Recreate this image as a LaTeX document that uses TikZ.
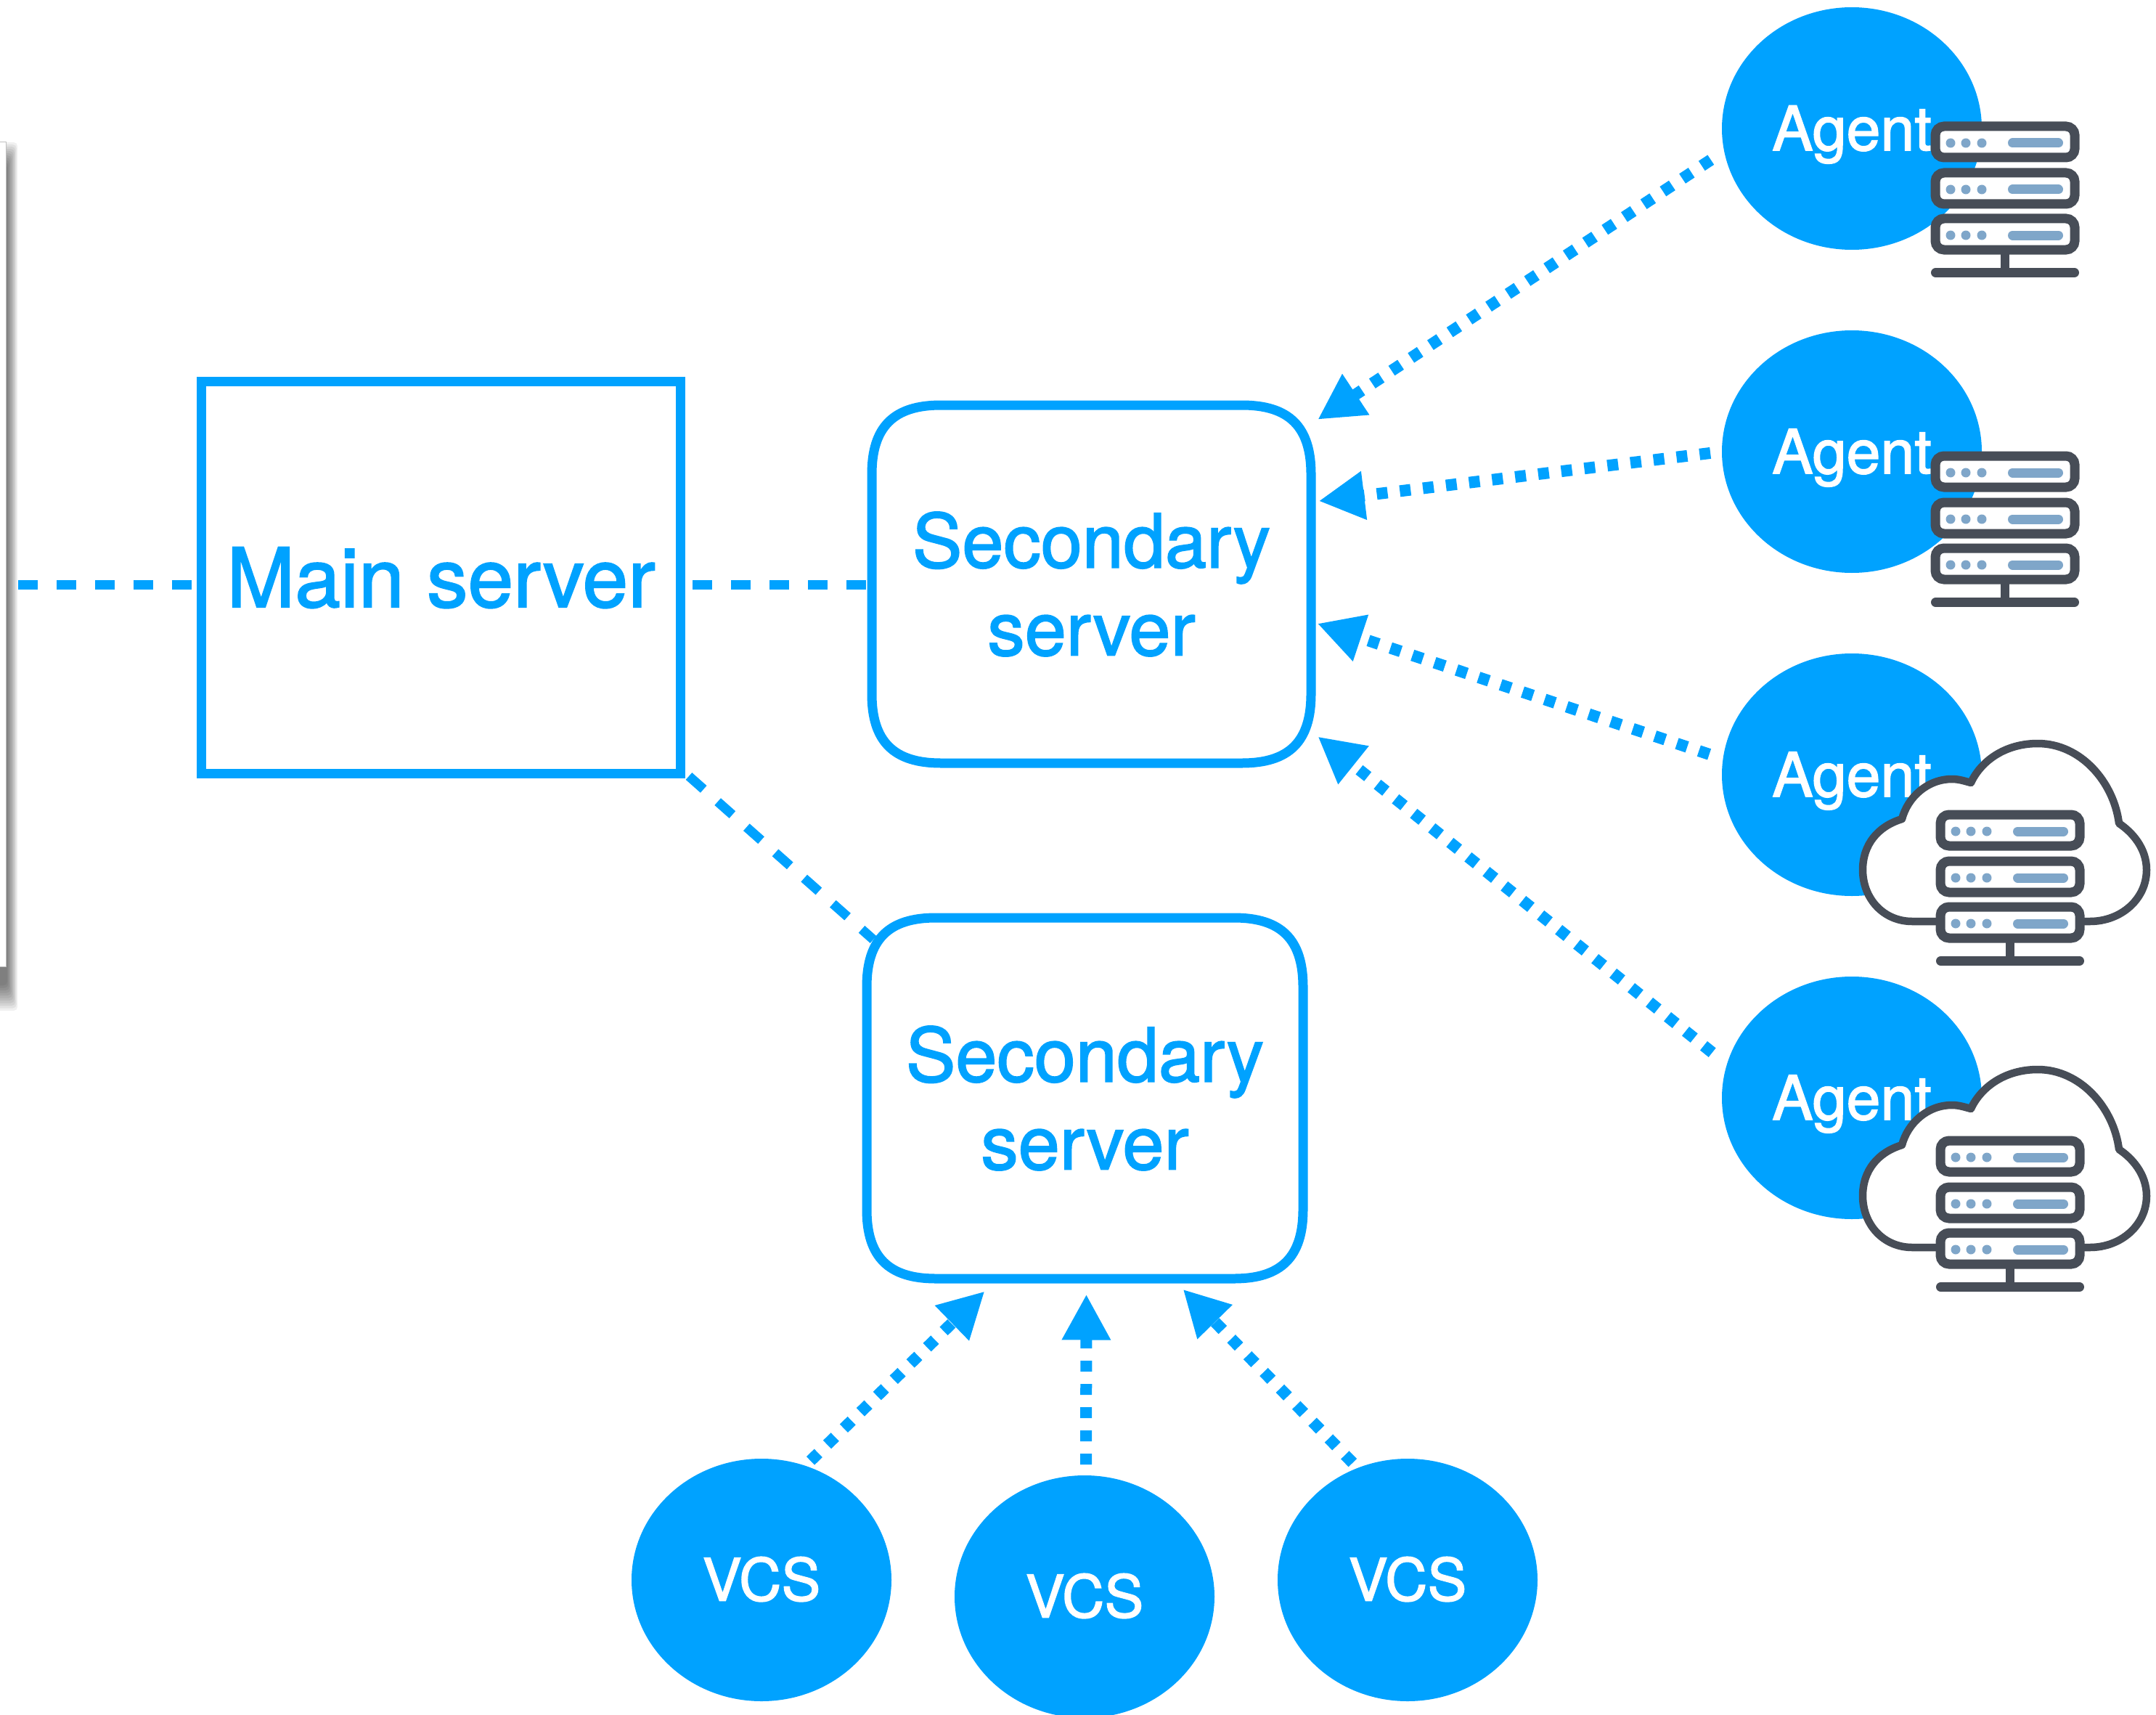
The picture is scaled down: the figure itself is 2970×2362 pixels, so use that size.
\documentclass[tikz,border=0pt]{standalone}
\usepackage{fontspec}
\setmainfont{TeX Gyre Heros}[FakeBold=1.8]
\usetikzlibrary{arrows.meta,shapes.geometric}
\definecolor{sky}{HTML}{00A2FF}
\definecolor{slate}{HTML}{474D57}
\definecolor{steel}{HTML}{7FA6C9}
\newcommand{\softbox}[1]{%
  \draw[sky,line width=1.3mm]
    ([shift={(107.5,12.5)}]#1.north west) -- ([shift={(-107.5,12.5)}]#1.north east)
    .. controls ([shift={(-42.5,12.5)}]#1.north east) and ([shift={(-12.5,42.5)}]#1.north east) .. ([shift={(-12.5,107.5)}]#1.north east)
    -- ([shift={(-12.5,-107.5)}]#1.south east)
    .. controls ([shift={(-12.5,-42.5)}]#1.south east) and ([shift={(-42.5,-12.5)}]#1.south east) .. ([shift={(-107.5,-12.5)}]#1.south east)
    -- ([shift={(107.5,-12.5)}]#1.south west)
    .. controls ([shift={(42.5,-12.5)}]#1.south west) and ([shift={(12.5,-42.5)}]#1.south west) .. ([shift={(12.5,-107.5)}]#1.south west)
    -- ([shift={(12.5,107.5)}]#1.north west)
    .. controls ([shift={(12.5,42.5)}]#1.north west) and ([shift={(42.5,12.5)}]#1.north west) .. ([shift={(107.5,12.5)}]#1.north west)
    -- cycle;
}
\tikzset{
  ballnode/.style={ellipse,fill=sky,text=white,inner sep=0pt,outer sep=0pt,minimum width=35.8mm,minimum height=33.4mm},
  agentball/.style={ballnode,font=\fontsize{24}{28}\selectfont,text height=6mm,text depth=0mm},
  vcsball/.style={ballnode,font=\fontsize{23}{26}\selectfont,text height=5.7mm,text depth=0mm},
  mainbox/.style={draw=sky,line width=1.3mm,text=sky,fill=white,inner sep=0pt,outer sep=0.65mm,minimum width=66mm,minimum height=54mm,font=\fontsize{32.1}{38}\selectfont,text height=8.1mm,text depth=0mm},
  secbox/.style={text=sky,inner sep=0pt,outer sep=1.25mm,align=center,font=\fontsize{29.2}{34.4}\selectfont},
  dashlink/.style={sky,line width=1.3mm,dash pattern=on 2.7mm off 2.6mm},
  dotlink/.style={sky,line width=1.6mm,dash pattern=on 1.5mm off 1.7mm,-{Triangle[length=6.3mm,width=6.3mm]}},
  unitbox/.style={draw=slate,fill=white,line width=1.3mm,rounded corners=1.2mm},
  unitdot/.style={fill=steel},
  unitbar/.style={steel,line width=1.3mm,line cap=round},
  rack/.pic={
    \foreach \u in {0,64,127}{
      \draw[unitbox] (6,\u+6) rectangle (198,\u+49);
      \foreach \d in {27,48,70}{\fill[unitdot] (\d,\u+29) circle[radius=0.65mm];}
      \draw[unitbar] (112.5,\u+29) -- (175.5,\u+29);
    }
    \fill[slate] (96,182) rectangle (108,202);
    \draw[slate,line width=1.3mm,line cap=round] (6.5,207.5) -- (197.5,207.5);
  },
  cloudrack/.pic={
    \draw[slate,fill=white,line width=1.05mm,line join=round]
      (0,153) -- (-33,153)
      .. controls (-72,153) and (-101,122) .. (-101,82)
      .. controls (-101,47) and (-80,22) .. (-47,12)
      .. controls (-39,-18) and (-12,-43) .. (22,-43)
      .. controls (32,-43) and (40,-40) .. (48,-38)
      .. controls (62,-68) and (95,-92) .. (140,-92)
      .. controls (200,-92) and (245,-38) .. (252,18)
      .. controls (270,30) and (290,52) .. (290,82)
      .. controls (290,122) and (255,153) .. (212,153)
      -- (202,153);
    \pic {rack};
  }
}
\begin{document}
\begin{tikzpicture}[x=0.1mm,y=-0.1mm]
\useasboundingbox (0,0) rectangle (2970,2362);
\clip (0,0) rectangle (2970,2362);
\fill[white] (0,0) rectangle (2970,2362);
% page edge with its soft shadow
\foreach \i in {0,...,10}{
  \fill[black,opacity=0.06,rounded corners=0.5mm] (-40,196+\i*3) rectangle (24-\i*1.4,1392-\i*3.5);
}
\fill[white] (-40,195) rectangle (8,1331);
\draw[gray!50,line width=0.08mm] (-40,195) -- (8,195) -- (8,1331) -- (-40,1331);

% nodes
\node[mainbox] (main) at (607.5,795.5) {Main server};
\node[secbox,minimum width=60.5mm,minimum height=49.3mm] (sec1) at (1503.5,804.5) {Secondary\\server};
\node[secbox,minimum width=60.1mm,minimum height=49.7mm] (sec2) at (1494.5,1512.5) {Secondary\\server};
\softbox{sec1}
\softbox{sec2}

\node[agentball] (ag1) at (2551,177) {Agent};
\node[agentball] (ag2) at (2551,622) {Agent};
\node[agentball] (ag3) at (2551,1067) {Agent};
\node[agentball] (ag4) at (2551,1512) {Agent};
\node[vcsball] (v1) at (1049,2176) {VCS};
\node[vcsball] (v2) at (1494,2199) {VCS};
\node[vcsball] (v3) at (1939,2176) {VCS};

\pic at (2660,168) {rack};
\pic at (2660,622) {rack};
\pic at (2667,1116) {cloudrack};
\pic at (2667,1565) {cloudrack};

% plain dashed links
\coordinate (pageedge) at (25,805);
\coordinate (dl) at (0,805);
\draw[dashlink,shorten >=0.6mm] (pageedge) -- (main.west |- dl);
\draw[dashlink,shorten <=1mm,shorten >=-0.6mm] (main.east |- dl) -- (sec1.west |- dl);
\draw[dashlink] ([shift={(5,-3)}]main.south east) -- ([shift={(21.5,42.5)}]sec2.north west);

% dotted arrows
\draw[dotlink,shorten <=2.2mm,shorten >=-0.4mm] (ag1.190.4) -- (sec1.36);
\draw[dotlink,shorten <=1.6mm,shorten >=-0.2mm] (ag2.180) -- (sec1.20.9);
\draw[dotlink,shorten <=2mm,shorten >=-0.4mm] (ag3.173.6) -- (sec1.-10.4);
\draw[dotlink,shorten <=2.6mm,shorten >=-0.4mm] (ag4.165.5) -- (sec1.-34.9);
\draw[dotlink,shorten <=1mm,shorten >=0.7mm] (v1.69) -- (sec2.-117);
\draw[dotlink,shorten <=1.5mm,shorten >=0.9mm] ([xshift=0.2mm]v2.north) -- ([xshift=0.2mm]sec2.south);
\draw[dotlink,shorten <=1mm,shorten >=0.3mm] (v3.114.7) -- (sec2.-63.8);
\end{tikzpicture}
\end{document}
